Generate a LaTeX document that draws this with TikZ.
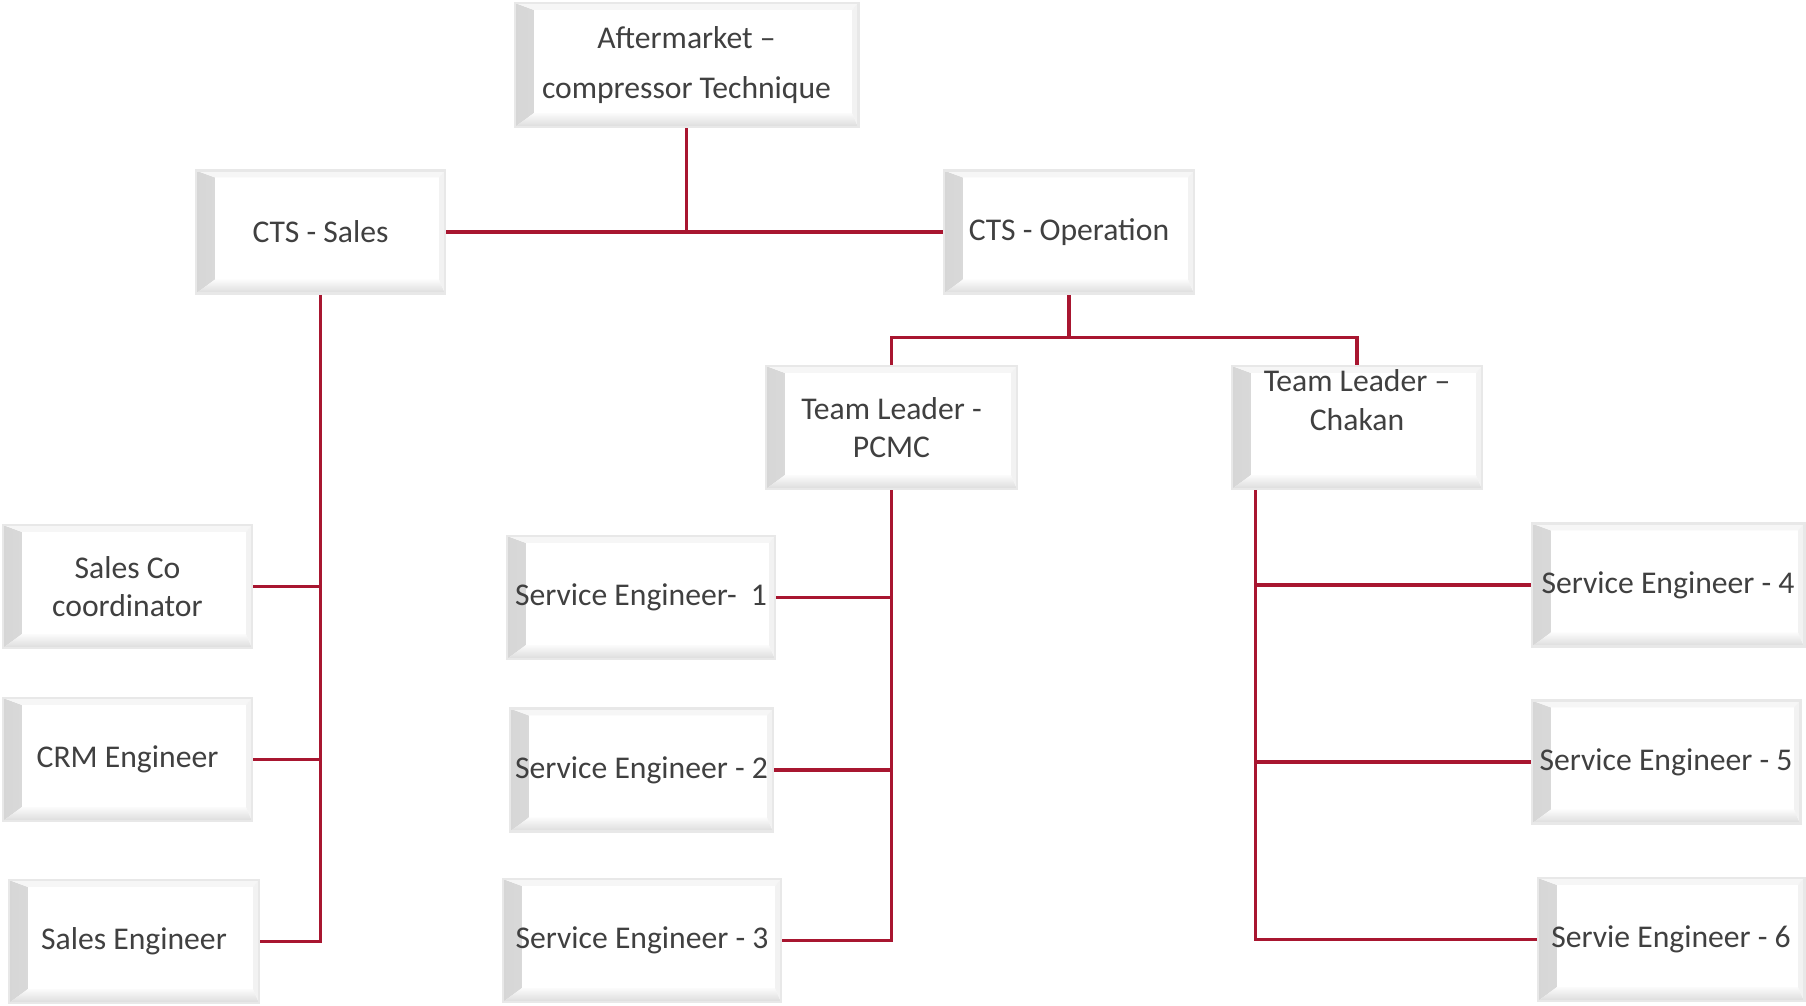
\documentclass[tikz,border=0pt]{standalone}
\usepackage{fontspec}
\setmainfont{Carlito}
\usetikzlibrary{positioning,calc}

\definecolor{linkred}{RGB}{168,22,48}
\definecolor{boxtext}{RGB}{64,64,64}

\tikzset{
  orgbox/.style={draw=gray!18, line width=0.8pt, fill=white, align=center,
    inner sep=0pt, text=boxtext, font=\fontsize{9}{11}\selectfont,
    minimum height=1.23cm,
    path picture={
      % left bevel
      \shade[left color=gray!32, right color=gray!4]
        (path picture bounding box.south west) -- (path picture bounding box.north west)
        -- ($(path picture bounding box.north west)+(0.19cm,-0.07cm)$)
        -- ($(path picture bounding box.south west)+(0.19cm,0.14cm)$) -- cycle;
      % bottom bevel
      \shade[bottom color=gray!28, top color=gray!3]
        (path picture bounding box.south west) -- ($(path picture bounding box.south west)+(0.19cm,0.14cm)$)
        -- ($(path picture bounding box.south east)+(-0.06cm,0.14cm)$)
        -- (path picture bounding box.south east) -- cycle;
      % top and right edge
      \fill[gray!7]
        (path picture bounding box.north west) -- (path picture bounding box.north east)
        -- ($(path picture bounding box.north east)+(-0.06cm,-0.07cm)$)
        -- ($(path picture bounding box.north west)+(0.19cm,-0.07cm)$) -- cycle;
      \fill[gray!10]
        (path picture bounding box.north east) -- (path picture bounding box.south east)
        -- ($(path picture bounding box.south east)+(-0.06cm,0.14cm)$)
        -- ($(path picture bounding box.north east)+(-0.06cm,-0.07cm)$) -- cycle;
    }},
  link/.style={draw=linkred, line width=0.9pt}
}

\begin{document}
\begin{tikzpicture}[x=0.01cm, y=-0.01cm]
  \useasboundingbox (0,0) rectangle (1806,1005);

  \node[orgbox, minimum width=3.43cm, minimum height=1.24cm] (top) at (686.5,65)
    {Aftermarket --\\[3pt]compressor Technique};
  \node[orgbox, minimum width=2.49cm] (sales) at (320.5,232) {CTS - Sales};
  \node[orgbox, minimum width=2.50cm] (ops) at (1069,232) {CTS - Operation};
  \node[orgbox, minimum width=2.51cm] (pcmc) at (891.5,427.5) {Team Leader -\\PCMC};
  \node[orgbox, minimum width=2.50cm, text depth=0.55cm] (chakan) at (1357,427.5) {Team Leader --\\Chakan};

  \node[orgbox, minimum width=2.49cm] (salesco) at (127.5,586.5) {Sales Co\\coordinator};
  \node[orgbox, minimum width=2.49cm] (crm) at (127.5,759.5) {CRM Engineer};
  \node[orgbox, minimum width=2.50cm] (saleseng) at (134,941.5) {Sales Engineer};

  \node[orgbox, minimum width=2.68cm] (se1) at (641,597.5) {Service Engineer-~~1};
  \node[orgbox, minimum width=2.63cm] (se2) at (641.5,770) {Service Engineer - 2};
  \node[orgbox, minimum width=2.78cm] (se3) at (642,940.5) {Service Engineer - 3};

  \node[orgbox, minimum width=2.72cm] (se4) at (1668,585) {Service Engineer - 4};
  \node[orgbox, minimum width=2.68cm] (se5) at (1666,762) {Service Engineer - 5};
  \node[orgbox, minimum width=2.66cm] (se6) at (1671,939.5) {Servie Engineer - 6};

  \coordinate (opsjoin) at (1069,337.5);
  \coordinate (chktrunk) at (1255.5,490);

  % top level
  \draw[link] (top.south) -- (top.south |- sales.east);
  \draw[link] (sales.east) -- (ops.west);

  % sales branch
  \draw[link] (sales.south) -- (sales.south |- saleseng.east) -- (saleseng.east);
  \draw[link] (salesco.east) -- (salesco.east -| sales.south);
  \draw[link] (crm.east) -- (crm.east -| sales.south);

  % operation branch
  \draw[link] (ops.south) -- (opsjoin);
  \draw[link] (pcmc.north) -- (pcmc.north |- opsjoin) -- (chakan.north |- opsjoin) -- (chakan.north);

  % PCMC team
  \draw[link] (pcmc.south) -- (pcmc.south |- se3.east) -- (se3.east);
  \draw[link] (se1.east) -- (se1.east -| pcmc.south);
  \draw[link] (se2.east) -- (se2.east -| pcmc.south);

  % Chakan team
  \draw[link] (chktrunk) -- (chktrunk |- se6.west) -- (se6.west);
  \draw[link] (se4.west) -- (se4.west -| chktrunk);
  \draw[link] (se5.west) -- (se5.west -| chktrunk);
\end{tikzpicture}
\end{document}
